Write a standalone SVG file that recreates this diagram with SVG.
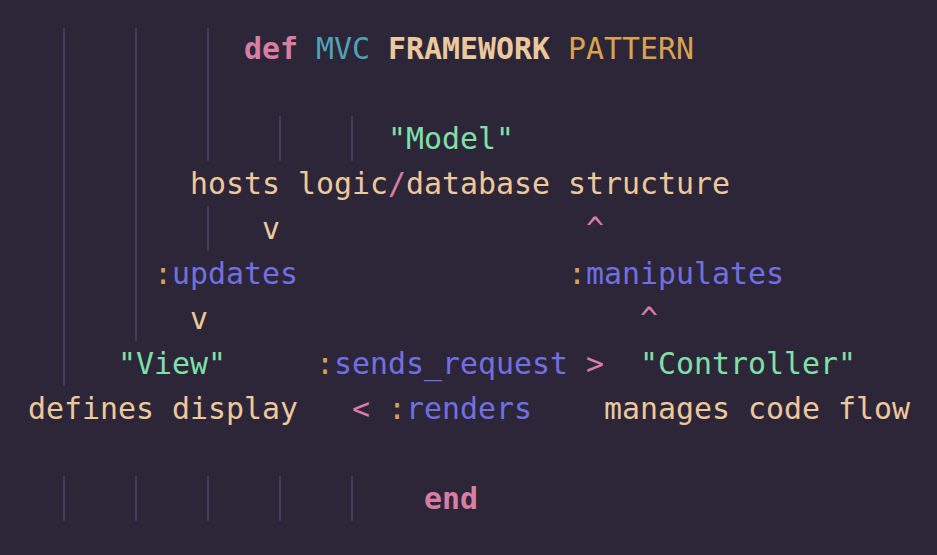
<svg xmlns="http://www.w3.org/2000/svg" width="937" height="555" viewBox="0 0 937 555">
<style>
text{font-family:"DejaVu Sans Mono","Liberation Mono",monospace;font-size:29.9px}
.k{fill:#d97ea3;font-weight:bold}.p{fill:#d97ea3}.t{fill:#4fa3b2}.b{fill:#ecc89c;font-weight:bold}
.o{fill:#d9a24f}.w{fill:#ecc89c}.s{fill:#7fe0a8}.y{fill:#7070e3}
.g{stroke:#433b58;stroke-width:2}
</style>
<rect width="937" height="555" fill="#2d2639"/>
<g id="guides" class="g">
<line x1="64" y1="28" x2="64" y2="386"/>
<line x1="136" y1="28" x2="136" y2="341"/>
<line x1="208" y1="28" x2="208" y2="161"/>
<line x1="208" y1="206" x2="208" y2="251"/>
<line x1="280" y1="116" x2="280" y2="161"/>
<line x1="352" y1="116" x2="352" y2="161"/>
<line x1="64" y1="476" x2="64" y2="521"/>
<line x1="136" y1="476" x2="136" y2="521"/>
<line x1="208" y1="476" x2="208" y2="521"/>
<line x1="280" y1="476" x2="280" y2="521"/>
<line x1="352" y1="476" x2="352" y2="521"/>
</g>
<g id="header"><text x="244" y="59"><tspan class="k">def</tspan> <tspan class="t">MVC</tspan> <tspan class="b">FRAMEWORK</tspan> <tspan class="o">PATTERN</tspan></text></g>
<g id="model"><text x="388" y="149" class="s">"Model"</text>
<text x="190" y="194" class="w">hosts logic<tspan class="p">/</tspan>database structure</text></g>
<g id="connectors">
<text x="262" y="239" class="w">v</text>
<text x="586" y="239" class="p">^</text>
<text x="154" y="284"><tspan class="o">:</tspan><tspan class="y">updates</tspan></text>
<text x="568" y="284"><tspan class="o">:</tspan><tspan class="y">manipulates</tspan></text>
<text x="190" y="329" class="w">v</text>
<text x="640" y="329" class="p">^</text>
<text x="316" y="374"><tspan class="o">:</tspan><tspan class="y">sends_request</tspan> <tspan class="p">&gt;</tspan></text>
<text x="352" y="419"><tspan class="p">&lt;</tspan> <tspan class="o">:</tspan><tspan class="y">renders</tspan></text>
</g>
<g id="view"><text x="118" y="374" class="s">"View"</text>
<text x="28" y="419" class="w">defines display</text></g>
<g id="controller"><text x="640" y="374" class="s">"Controller"</text>
<text x="604" y="419" class="w">manages code flow</text></g>
<g id="end"><text x="424" y="509" class="k">end</text></g>
</svg>
